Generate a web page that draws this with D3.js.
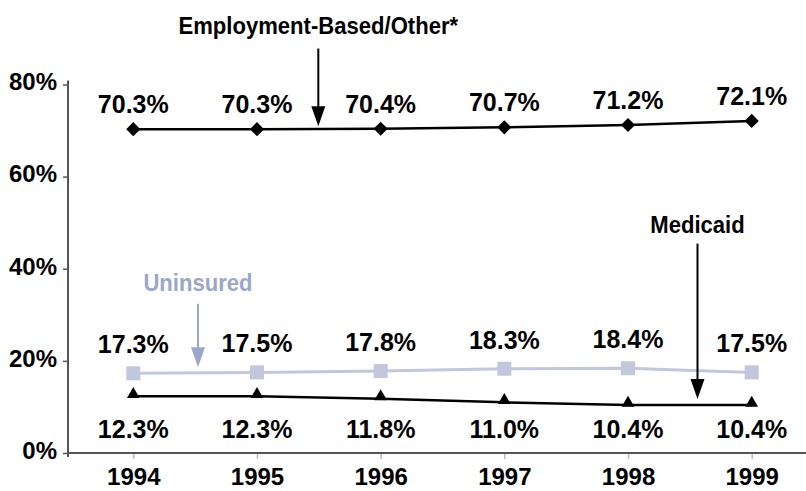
<!DOCTYPE html>
<html>
<head>
<meta charset="utf-8">
<script src="https://cdn.jsdelivr.net/npm/d3@7"></script>
<style>
	body { margin: 0; background: #fff; }
	text { font-family: "Liberation Sans", Arial, sans-serif; font-weight: bold; }
</style>
</head>
<body>
<script>
const years = [1994, 1995, 1996, 1997, 1998, 1999];
const employment = [70.3, 70.3, 70.4, 70.7, 71.2, 72.1];
const uninsured = [17.3, 17.5, 17.8, 18.3, 18.4, 17.5];
const medicaid = [12.3, 12.3, 11.8, 11.0, 10.4, 10.4];
const yTicks = [0, 20, 40, 60, 80];

const margin = {
	top: 84.5,
	bottom: 38,
	left: 68,
	right: 0
}

const width = 806 - margin.left - margin.right;
const height = 491 - margin.top - margin.bottom;

const blue = '#c1c8de';
const blueText = '#9aa7c8';

const svg = d3.select('body').append('svg')
	.attr('width', 806)
	.attr('height', 491)
.append('g')
	.attr('transform', 'translate(' + margin.left + ',' + margin.top + ')');

const xScale = d3.scaleLinear().domain([1994, 1999]).range([65.3, 683.7]);
const yScale = d3.scaleLinear().domain([0, 80]).range([height, 0]);

// axes
const yAxis = d3.axisLeft(yScale).tickValues(yTicks).tickSize(5).tickPadding(6)
	.tickFormat(function(d) { return d + '%' });
const xAxis = d3.axisBottom(xScale).tickValues(years).tickSize(6)
	.tickFormat(d3.format('d'));

const gx = svg.append('g')
	.attr('transform', 'translate(0,' + height + ')')
	.call(xAxis);
gx.select('.domain').remove();
gx.append('line').attr('x1', 0).attr('x2', width).attr('stroke', '#555').attr('stroke-width', 2.2);
gx.selectAll('.tick line').attr('stroke', '#bbb').attr('stroke-width', 1.5);
gx.selectAll('.tick text').attr('fill', '#000').style('font-size', '24px').style('font-family', null)
	.attr('y', 32).attr('dy', 0);

const gy = svg.append('g').call(yAxis);
gy.select('.domain').remove();
gy.append('line').attr('y1', -4).attr('y2', height + 4).attr('stroke', '#555').attr('stroke-width', 2);
gy.selectAll('.tick line').attr('stroke', '#555').attr('stroke-width', 1.5);
gy.selectAll('.tick text').attr('fill', '#000').style('font-size', '24px').style('font-family', null)
	.attr('dy', '0.22em');

const line = d3.line()
	.x(function(d, i) { return xScale(years[i]) })
	.y(function(d) { return yScale(d) });

// uninsured
svg.append('path').datum(uninsured)
	.attr('d', line).attr('fill', 'none').attr('stroke', blue).attr('stroke-width', 3);
svg.selectAll('.sq').data(uninsured).enter().append('rect')
	.attr('x', function(d, i) { return xScale(years[i]) - 7 })
	.attr('y', function(d) { return yScale(d) - 7 })
	.attr('width', 14).attr('height', 14)
	.attr('fill', blue);

// medicaid
svg.append('path').datum(medicaid)
	.attr('d', line).attr('fill', 'none').attr('stroke', '#000').attr('stroke-width', 2.5);
svg.selectAll('.tri').data(medicaid).enter().append('path')
	.attr('d', d3.symbol().type(d3.symbolTriangle).size(70))
	.attr('transform', function(d, i) { return 'translate(' + xScale(years[i]) + ',' + (yScale(d) - 2) + ')' })
	.attr('fill', '#000');

// employment
svg.append('path').datum(employment)
	.attr('d', line).attr('fill', 'none').attr('stroke', '#000').attr('stroke-width', 2.5);
svg.selectAll('.dia').data(employment).enter().append('path')
	.attr('d', d3.symbol().type(d3.symbolSquare).size(100))
	.attr('transform', function(d, i) { return 'translate(' + xScale(years[i]) + ',' + yScale(d) + ') rotate(45)' })
	.attr('fill', '#000');

// value labels
function labels(values, yPos) {
	svg.append('g').selectAll('text').data(values).enter().append('text')
		.attr('x', function(d, i) { return xScale(years[i]) })
		.attr('y', yPos)
		.attr('text-anchor', 'middle')
		.style('font-size', '25px')
		.text(function(d) { return d.toFixed(1) + '%' });
}
labels(employment, function(d) { return yScale(d) - 16 });
labels(uninsured, function(d) { return yScale(d) - 20 });
labels(medicaid, function(d) { return height - 15 });

// callouts
function callout(label, color, x, ty, y1, y2) {
	svg.append('text')
		.attr('transform', 'translate(' + x + ',' + ty + ') scale(0.92,1)')
		.attr('text-anchor', 'middle')
		.attr('fill', color)
		.style('font-size', '24px')
		.text(label);
	svg.append('line')
		.attr('x1', x).attr('x2', x).attr('y1', y1).attr('y2', y2 - 18)
		.attr('stroke', color).attr('stroke-width', 2);
	svg.append('path')
		.attr('d', 'M' + (x - 7) + ',' + (y2 - 20) + 'L' + (x + 7) + ',' + (y2 - 20) + 'L' + x + ',' + y2 + 'Z')
		.attr('fill', color);
}
callout('Employment-Based/Other*', '#000', 318.3 - margin.left, yScale(80) - 51, yScale(80) - 36, yScale(employment[1]) - 3);
callout('Uninsured', blueText, 198 - margin.left, yScale(40) + 22, yScale(40) + 35, yScale(uninsured[0]) - 6);
callout('Medicaid', '#000', 697.5 - margin.left, yScale(60) + 56, yScale(60) + 67, yScale(medicaid[5]) - 6);
</script>
</body>
</html>
